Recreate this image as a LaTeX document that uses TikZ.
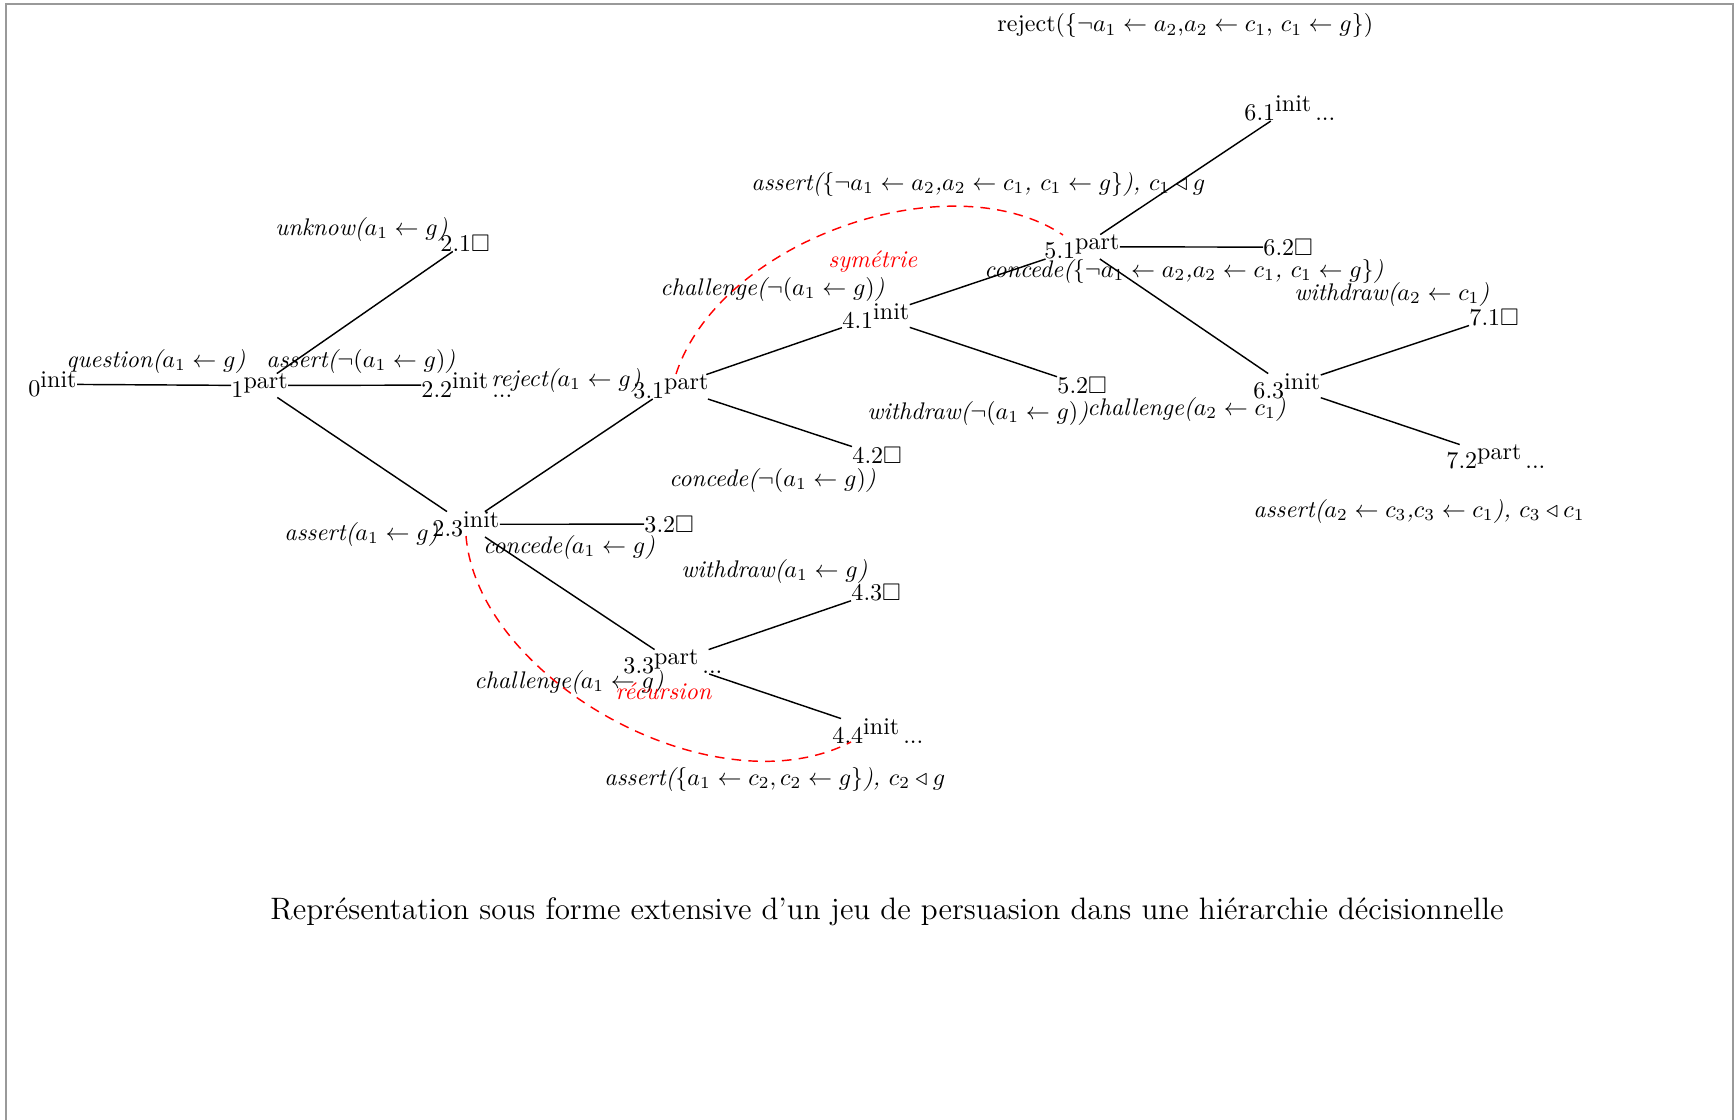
\documentclass[tikz,border=0pt]{standalone}
\usepackage{amssymb}
\newcommand{\pl}[1]{\raisebox{3.4pt}{#1}}
\begin{document}
\begin{tikzpicture}[x=0.416pt,y=-0.416pt,
  gn/.style={inner sep=0pt, anchor=base west},
  lab/.style={inner sep=0pt, anchor=base west, font=\itshape},
  edge/.style={line width=0.6pt},
  rarc/.style={red, dash pattern=on 4pt off 3pt, line width=0.6pt}]
\useasboundingbox (0,0) rectangle (1736,1120);
\draw[gray!80, line width=1pt] (6,1120) -- (6,4) -- (1733,4) -- (1733,1120);
% tree nodes
\node[gn] (n0) at (28,396) {0\pl{init}};
\node[gn] (n1) at (231,397) {1\pl{part}};
\node[gn] (n21) at (440,251) {2.1$\Box$};
\node[gn] (n22) at (421,397) {2.2\pl{init}\,...};
\node[gn] (n23) at (432,536) {2.3\pl{init}};
\node[gn] (n31) at (633,398) {3.1\pl{part}};
\node[gn] (n32) at (644,532) {3.2$\Box$};
\node[gn] (n33) at (623,673) {3.3\pl{part}\,...};
\node[gn] (n41) at (842,328) {4.1\pl{init}};
\node[gn] (n42) at (852,463) {4.2$\Box$};
\node[gn] (n43) at (851,600) {4.3$\Box$};
\node[gn] (n44) at (832,743) {4.4\pl{init}\,...};
\node[gn] (n51) at (1044,258) {5.1\pl{part}};
\node[gn] (n52) at (1057,393) {5.2$\Box$};
\node[gn] (n61) at (1244,120) {6.1\pl{init}\,...};
\node[gn] (n62) at (1263,255) {6.2$\Box$};
\node[gn] (n63) at (1253,398) {6.3\pl{init}};
\node[gn] (n71) at (1469,325) {7.1$\Box$};
\node[gn] (n72) at (1446,468) {7.2\pl{part}\,...};
% edges
\draw[edge] (n0) -- (n1);
\draw[edge] (n1) -- (n21);
\draw[edge] (n1) -- (n22);
\draw[edge] (n1) -- (n23);
\draw[edge] (n23) -- (n31);
\draw[edge] (n23) -- (n32);
\draw[edge] (n23) -- (n33);
\draw[edge] (n31) -- (n41);
\draw[edge] (n31) -- (n42);
\draw[edge] (n33) -- (n43);
\draw[edge] (n33) -- (n44);
\draw[edge] (n41) -- (n51);
\draw[edge] (n41) -- (n52);
\draw[edge] (n51) -- (n61);
\draw[edge] (n51) -- (n62);
\draw[edge] (n51) -- (n63);
\draw[edge] (n63) -- (n71);
\draw[edge] (n63) -- (n72);
% labels
\node[lab] (l1) at (66,367) {question($a_1 \leftarrow g$)};
\node[lab] (l2) at (275,235) {unknow($a_1 \leftarrow g$)};
\node[lab] (l3) at (266,367) {assert($\neg(a_1 \leftarrow g)$)};
\node[lab] (l4) at (284,540) {assert($a_1 \leftarrow g$)};
\node[lab] (l5) at (491,386) {reject($a_1 \leftarrow g$)};
\node[lab] (l6) at (660,295) {challenge($\neg(a_1 \leftarrow g)$)};
\node[lab, red] (l7) at (828,267) {symétrie};
\node[lab] (l8) at (669,486) {concede($\neg(a_1 \leftarrow g)$)};
\node[lab] (l9) at (867,419) {withdraw($\neg(a_1 \leftarrow g)$)};
\node[lab] (l10) at (483,553) {concede($a_1 \leftarrow g$)};
\node[lab] (l11) at (681,577) {withdraw($a_1 \leftarrow g$)};
\node[lab] (l12) at (474,688) {challenge($a_1 \leftarrow g$)};
\node[lab, red] (l13) at (615,699) {récursion};
\node[lab] (l14) at (604,785) {assert($\{a_1 \leftarrow c_2, c_2 \leftarrow g\}$), $c_2 \triangleleft g$};
\node[lab] (l15) at (751,190) {assert($\{\neg a_1 \leftarrow a_2$,$a_2 \leftarrow c_1$, $c_1 \leftarrow g\}$), $c_1 \triangleleft g$};
\node[gn] (l16) at (997,32) {reject($\{\neg a_1 \leftarrow a_2$,$a_2 \leftarrow c_1$, $c_1 \leftarrow g\}$)};
\node[lab] (l17) at (984,277) {concede($\{\neg a_1 \leftarrow a_2$,$a_2 \leftarrow c_1$, $c_1 \leftarrow g\}$)};
\node[lab] (l18) at (1294,300) {withdraw($a_2 \leftarrow c_1$)};
\node[lab] (l19) at (1087,415) {challenge($a_2 \leftarrow c_1$)};
\node[lab] (l20) at (1253,517) {assert($a_2 \leftarrow c_3$,$c_3 \leftarrow c_1$), $c_3 \triangleleft c_1$};
% red arcs
\coordinate (s0) at (676,374);
\coordinate (s1) at (1063,235);
\draw[rarc] (s0) .. controls (720,240) and (950,160) .. (s1);
\coordinate (r0) at (466,536);
\coordinate (r1) at (851,742);
\draw[rarc] (r0) .. controls (478,680) and (715,812) .. (r1);
% caption
\node[inner sep=0pt, anchor=base, font=\fontsize{12.9}{15}\selectfont] (cap) at (887,919) {Représentation sous forme extensive d'un jeu de persuasion dans une hiérarchie décisionnelle};
\end{tikzpicture}
\end{document}
